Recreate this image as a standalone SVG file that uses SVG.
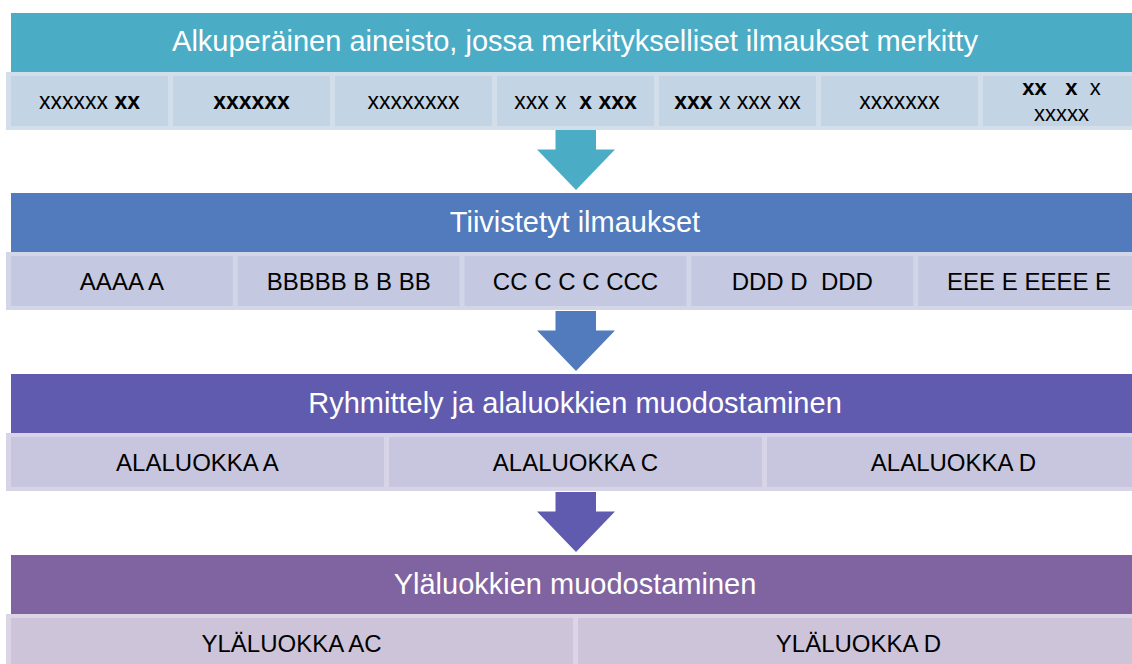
<svg xmlns="http://www.w3.org/2000/svg" width="1132" height="664" viewBox="0 0 1132 664">
<style>
text{font-family:"Liberation Sans",Arial,sans-serif;text-anchor:middle}
.h{font-size:29px;fill:#FFFFFF}
.s{font-size:24px;fill:#000000}
.x{font-size:23px;fill:#000000}
.x2{font-size:22px;fill:#000000}
.b{font-weight:bold}
.h1{fill:#4BACC6}.bg1{fill:#D2DFEA}.c1{fill:#C3D5E4}
.h2{fill:#517BBD}.bg2{fill:#D3D6E8}.c2{fill:#C4C8E0}
.h3{fill:#605BAF}.bg3{fill:#D7D4E8}.c3{fill:#C8C5DE}
.h4{fill:#8064A2}.bg4{fill:#DCD5E5}.c4{fill:#CDC4DA}
</style>
<defs>
<path id="arr" d="M555.5,0 H596 V19.5 H615 L576,60 L537,19.5 H555.5 Z"/>
</defs>
<rect width="1132" height="664" fill="#FFFFFF"/>

<g id="connectors">
<use href="#arr" y="130" class="h1"/>
<use href="#arr" y="311" class="h2"/>
<use href="#arr" y="492" class="h3"/>
</g>

<g id="band1">
<rect x="11" y="13" width="1130" height="59" class="h1"/>
<text x="575" y="51" class="h">Alkuperäinen aineisto, jossa merkitykselliset ilmaukset merkitty</text>
<rect x="6" y="72" width="1134" height="58" class="bg1"/>
<g id="b1c1"><rect x="11" y="76" width="157" height="50" class="c1"/><text x="89.5" y="109" class="x">xxxxxx <tspan class="b">xx</tspan></text></g>
<g id="b1c2"><rect x="173" y="76" width="157" height="50" class="c1"/><text x="251.5" y="109" class="x b">xxxxxx</text></g>
<g id="b1c3"><rect x="335" y="76" width="157" height="50" class="c1"/><text x="413.5" y="109" class="x">xxxxxxxx</text></g>
<g id="b1c4"><rect x="497" y="76" width="157" height="50" class="c1"/><text x="575.5" y="109" class="x">xxx x&#160; <tspan class="b">x xxx</tspan></text></g>
<g id="b1c5"><rect x="659" y="76" width="157" height="50" class="c1"/><text x="737.5" y="109" class="x"><tspan class="b">xxx</tspan> x xxx xx</text></g>
<g id="b1c6"><rect x="821" y="76" width="157" height="50" class="c1"/><text x="899.5" y="109" class="x">xxxxxxx</text></g>
<g id="b1c7"><rect x="983" y="76" width="157" height="50" class="c1"/><text x="1061.5" y="95" class="x2"><tspan class="b">xx&#160;&#160; x</tspan>&#160; x</text><text x="1061.5" y="121" class="x2">xxxxx</text></g>
</g>

<g id="band2">
<rect x="11" y="193" width="1130" height="59" class="h2"/>
<text x="575" y="231.5" class="h">Tiivistetyt ilmaukset</text>
<rect x="6" y="252" width="1134" height="58" class="bg2"/>
<g id="b2c1"><rect x="11" y="256" width="221.8" height="50" class="c2"/><text x="121.9" y="290" class="s">AAAA A</text></g>
<g id="b2c2"><rect x="237.8" y="256" width="221.8" height="50" class="c2"/><text x="348.7" y="290" class="s">BBBBB B B BB</text></g>
<g id="b2c3"><rect x="464.6" y="256" width="221.8" height="50" class="c2"/><text x="575.5" y="290" class="s">CC C C C CCC</text></g>
<g id="b2c4"><rect x="691.4" y="256" width="221.8" height="50" class="c2"/><text x="802.3" y="290" class="s">DDD D&#160; DDD</text></g>
<g id="b2c5"><rect x="918.2" y="256" width="221.8" height="50" class="c2"/><text x="1029.1" y="290" class="s">EEE E EEEE E</text></g>
</g>

<g id="band3">
<rect x="11" y="374" width="1130" height="59" class="h3"/>
<text x="575" y="412.5" class="h">Ryhmittely ja alaluokkien muodostaminen</text>
<rect x="6" y="433" width="1134" height="58" class="bg3"/>
<g id="b3c1"><rect x="11" y="437" width="373" height="50" class="c3"/><text x="197.5" y="471" class="s">ALALUOKKA A</text></g>
<g id="b3c2"><rect x="389" y="437" width="373" height="50" class="c3"/><text x="575.5" y="471" class="s">ALALUOKKA C</text></g>
<g id="b3c3"><rect x="767" y="437" width="373" height="50" class="c3"/><text x="953.5" y="471" class="s">ALALUOKKA D</text></g>
</g>

<g id="band4">
<rect x="11" y="555" width="1130" height="59" class="h4"/>
<text x="575" y="593.5" class="h">Yläluokkien muodostaminen</text>
<rect x="6" y="614" width="1134" height="58" class="bg4"/>
<g id="b4c1"><rect x="11" y="618" width="562" height="50" class="c4"/><text x="291.5" y="652" class="s">YLÄLUOKKA AC</text></g>
<g id="b4c2"><rect x="578" y="618" width="562" height="50" class="c4"/><text x="858.5" y="652" class="s">YLÄLUOKKA D</text></g>
</g>
</svg>
